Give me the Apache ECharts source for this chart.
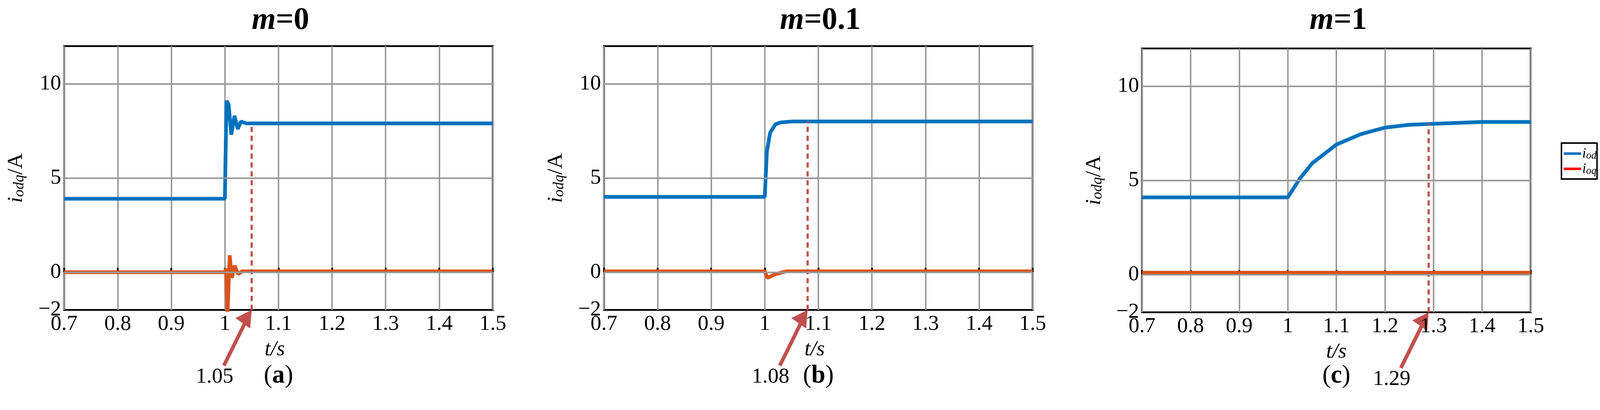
<!DOCTYPE html>
<html><head><meta charset="utf-8">
<script src="https://cdn.jsdelivr.net/npm/echarts@6/dist/echarts.min.js"></script>
<style>html,body{margin:0;padding:0;background:#fff;overflow:hidden}#c{width:100vw;height:100vh}</style>
</head><body><div id="c"></div>
<script>
// values: [t, A]
var titles = ['m=0', 'm=0.1', 'm=1'];
var tags = ['a', 'b', 'c'];
var iodA = [[0.7,3.9],[1.0,3.9],[1.003,9.1],[1.007,8.9],[1.012,7.3],[1.018,8.3],[1.024,7.6],[1.03,8.0],[1.04,7.9],[1.5,7.9]];
var ioqA = [[0.7,0],[1.0,0],[1.002,0.2],[1.005,-2.2],[1.009,0.9],[1.013,-0.3],[1.018,0.35],[1.025,-0.1],[1.032,0.05],[1.5,0.05]];
var iodB = [[0.7,4.0],[1.0,4.0],[1.004,6.4],[1.01,7.4],[1.02,7.85],[1.03,7.95],[1.05,8.0],[1.5,8.0]];
var ioqB = [[0.7,0.05],[1.0,0.05],[1.005,-0.3],[1.02,-0.1],[1.04,0.05],[1.5,0.05]];
var iodC = [[0.7,4.1],[1.0,4.1],[1.025,5.1],[1.05,5.9],[1.1,6.9],[1.15,7.45],[1.2,7.8],[1.25,7.95],[1.3,8.0],[1.4,8.1],[1.5,8.1]];
var ioqC = [[0.7,0.1],[1.5,0.1]];
var settle = [1.05, 1.08, 1.29];
var settleVal = [7.9, 8.0, 8.0];
var yLabels = [-2, 0, 5, 10];
var yGrid = [0, 5, 10];

var iod = [iodA, iodB, iodC], ioq = [ioqA, ioqB, ioqC];
var chart = echarts.init(document.getElementById('c'));
var W = chart.getWidth(), H = chart.getHeight();
var sx = W / 4318, sy = H / 1049, s = Math.min(sx, sy);
var base = [
  {left: 173, top: 118, width: 1157, height: 675},
  {left: 1630, top: 118, width: 1157, height: 675},
  {left: 3082, top: 124, width: 1049, height: 675}
];
var grids = base.map(function (b) { return {left: b.left * sx, top: b.top * sy, width: b.width * sx, height: b.height * sy}; });
var F = 'Liberation Serif';
var fs = 58 * s;
var option = {
  animation: false,
  title: titles.map(function (t, i) {
    var p = t.split('=');
    return {text: '{i|' + p[0] + '}{n|=' + p[1] + '}', left: grids[i].left + grids[i].width / 2, top: 8 * sy, textAlign: 'center',
      textStyle: {rich: {i: {fontFamily: F, fontStyle: 'italic', fontSize: 84 * s, color: '#000'}, n: {fontFamily: F, fontSize: 84 * s, color: '#000'}}}};
  }),
  grid: grids.map(function (g) { return Object.assign({show: true, borderColor: '#000', borderWidth: 5 * s, backgroundColor: 'transparent'}, g); }),
  xAxis: grids.map(function (g, i) {
    return {type: 'value', gridIndex: i, min: 0.7, max: 1.5, interval: 0.1,
      axisLine: {show: false}, axisTick: {inside: true, length: 12 * s, lineStyle: {color: '#000', width: 5 * s}},
      splitLine: {lineStyle: {color: '#999', width: 4 * s}},
      axisLabel: {fontFamily: F, fontSize: fs, color: '#000', margin: 10 * s, formatter: function (v) { return +v.toFixed(1) + ''; }}};
  }),
  yAxis: grids.map(function (g, i) {
    return {type: 'value', gridIndex: i, min: -2, max: 12, interval: 1,
      axisLine: {show: false}, axisTick: {show: false}, splitLine: {show: false},
      name: '{i|i}{s|odq}{n|/A}', nameLocation: 'middle', nameRotate: 90, nameGap: 100 * s,
      nameTextStyle: {rich: {i: {fontFamily: F, fontStyle: 'italic', fontSize: fs, color: '#000'},
        s: {fontFamily: F, fontStyle: 'italic', fontSize: 40 * s, color: '#000', padding: [18 * s, 0, 0, 0]},
        n: {fontFamily: F, fontSize: fs, color: '#000'}}},
      axisLabel: {fontFamily: F, fontSize: fs, color: '#000', margin: 8 * s,
        formatter: function (v) { return yLabels.indexOf(v) >= 0 ? (v < 0 ? '\u2212' + (-v) : v + '') : ''; }}};
  }),
  series: []
};
for (var i = 0; i < 3; i++) {
  option.series.push({type: 'line', xAxisIndex: i, yAxisIndex: i, data: [], z: 1, silent: true,
    markLine: {symbol: 'none', silent: true, label: {show: false}, lineStyle: {color: '#999', width: 4 * s, type: 'solid'},
      data: yGrid.map(function (y) { return {yAxis: y}; })}});
  option.series.push({type: 'line', xAxisIndex: i, yAxisIndex: i, data: iod[i], showSymbol: false, z: 3,
    lineStyle: {color: '#0072bd', width: 10 * s}});
  option.series.push({type: 'line', xAxisIndex: i, yAxisIndex: i, data: ioq[i], showSymbol: false, z: 3,
    lineStyle: {color: '#d95319', width: 10 * s}});
  option.series.push({type: 'line', xAxisIndex: i, yAxisIndex: i, data: [[settle[i], -2], [settle[i], settleVal[i]]], showSymbol: false, z: 4,
    lineStyle: {color: '#c0504d', width: 6 * s, type: [14 * s, 10 * s]}});
}
chart.setOption(option);

var g = [];
for (var k = 0; k < 3; k++) {
  var head = chart.convertToPixel({gridIndex: k}, [settle[k], -2]);
  var tail = [head[0] - 75 * s, head[1] + 150 * s];
  g.push({type: 'line', shape: {x1: tail[0], y1: tail[1], x2: head[0] - 14 * s, y2: head[1] + 27 * s}, style: {stroke: '#c0504d', lineWidth: 10 * s}});
  g.push({type: 'polygon', shape: {points: [[head[0], head[1]], [head[0] - 44 * s, head[1] + 22 * s], [head[0] - 4 * s, head[1] + 50 * s]]}, style: {fill: '#c0504d'}});
  g.push({type: 'text', x: tail[0] - 25 * s, y: tail[1] + 2 * s, style: {text: settle[k].toFixed(2), font: fs + 'px "' + F + '"', fill: '#000', align: 'center'}});
  var tx = chart.convertToPixel({gridIndex: k}, [1.1, -2]);
  g.push({type: 'text', x: tx[0] - (k == 2 ? 0 : 10 * s), y: tx[1] + 78 * s, style: {text: 't/s', font: 'italic ' + fs + 'px "' + F + '"', fill: '#000', align: 'center'}});
  g.push({type: 'text', x: grids[k].left + grids[k].width / 2, y: 930 * sy, style: {text: '({b|' + tags[k] + '})', font: 68 * s + 'px "' + F + '"', fill: '#000', align: 'center',
    rich: {b: {fontFamily: F, fontSize: 68 * s, fontWeight: 'bold', fill: '#000'}}}});
}
// legend box
var lx = 4214 * sx, ly = 366 * sy;
g.push({type: 'rect', shape: {x: lx, y: ly, width: 96 * sx, height: 92 * sy}, style: {fill: '#fff', stroke: '#000', lineWidth: 4 * s}});
g.push({type: 'line', shape: {x1: lx + 6 * sx, y1: ly + 27 * sy, x2: lx + 53 * sx, y2: ly + 27 * sy}, style: {stroke: '#0072bd', lineWidth: 7 * s}});
g.push({type: 'line', shape: {x1: lx + 6 * sx, y1: ly + 66 * sy, x2: lx + 53 * sx, y2: ly + 66 * sy}, style: {stroke: '#ff0000', lineWidth: 7 * s}});
['od', 'oq'].forEach(function (sub, j) {
  g.push({type: 'text', x: lx + 56 * sx, y: ly + (8 + 39 * j) * sy, style: {text: '{i|i}{s|' + sub + '}',
    rich: {i: {fontFamily: F, fontStyle: 'italic', fontSize: 38 * s, fill: '#000'}, s: {fontFamily: F, fontStyle: 'italic', fontSize: 28 * s, fill: '#000', padding: [12 * s, 0, 0, 0]}}}});
});
chart.setOption({graphic: g});
</script></body></html>
